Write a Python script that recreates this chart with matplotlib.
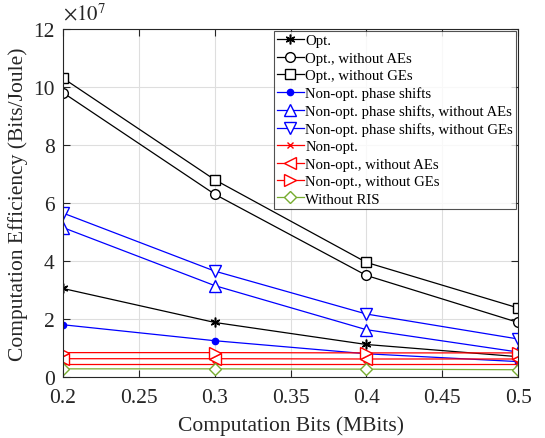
import numpy as np
import matplotlib
matplotlib.use('Agg')
import matplotlib.pyplot as plt

plt.rcParams['font.family'] = 'Liberation Serif'
plt.rcParams['mathtext.fontset'] = 'stix'

bits = [0.2, 0.3, 0.4, 0.5]

# computation efficiency, in units of 1e7 Bits/Joule
opt = [3.05, 1.88, 1.12, 0.70]
opt_no_ae = [9.8, 6.3, 3.5, 1.88]
opt_no_ge = [10.3, 6.8, 3.95, 2.38]
nps = [1.8, 1.25, 0.80, 0.53]
nps_no_ae = [5.15, 3.15, 1.63, 0.86]
nps_no_ge = [5.65, 3.65, 2.17, 1.31]
nonopt = [0.45, 0.45, 0.45, 0.45]
nonopt_no_ae = [0.63, 0.63, 0.62, 0.62]
nonopt_no_ge = [0.84, 0.84, 0.83, 0.83]
no_ris = [0.28, 0.28, 0.27, 0.25]

green = (0.466, 0.674, 0.188)
dark = '#262626'

fig = plt.figure(figsize=(5.45, 4.39), dpi=100)
ax = fig.add_axes([0.1156, 0.139, 0.835, 0.793])

ms = 7
ax.plot(bits, opt, '-', marker=(6, 2, 0), color='k', lw=0.9, ms=ms, mew=1.1, label='Opt.')
ax.plot(bits, opt_no_ae, '-o', color='k', lw=0.9, ms=ms, mfc='w', label='Opt., without AEs')
ax.plot(bits, opt_no_ge, '-s', color='k', lw=0.9, ms=ms, mfc='w', label='Opt., without GEs')
ax.plot(bits, nps, '-o', color='b', lw=0.9, ms=4.5, label='Non-opt. phase shifts')
ax.plot(bits, nps_no_ae, '-^', color='b', lw=0.9, ms=ms + 1, mfc='w', label='Non-opt. phase shifts, without AEs')
ax.plot(bits, nps_no_ge, '-v', color='b', lw=0.9, ms=ms + 1, mfc='w', label='Non-opt. phase shifts, without GEs')
ax.plot(bits, nonopt, '-x', color='r', lw=0.9, ms=5, label='Non-opt.')
ax.plot(bits, nonopt_no_ae, '-<', color='r', lw=0.9, ms=ms + 1, mfc='w', label='Non-opt., without AEs')
ax.plot(bits, nonopt_no_ge, '->', color='r', lw=0.9, ms=ms + 1, mfc='w', label='Non-opt., without GEs')
ax.plot(bits, no_ris, '-D', color=green, lw=0.9, ms=6, mfc='w', label='Without RIS')

ax.set_xlim(0.2, 0.5)
ax.set_ylim(0, 12)
ax.set_xticks([0.2, 0.25, 0.3, 0.35, 0.4, 0.45, 0.5])
ax.set_xticklabels(['0.2', '0.25', '0.3', '0.35', '0.4', '0.45', '0.5'])
ax.set_yticks(np.arange(0, 13, 2))
ax.text(0.0, 1.012, r'$\times10^{7}$', transform=ax.transAxes, fontsize=15, color=dark,
        ha='left', va='bottom')

ax.grid(True, color='#dedede', lw=0.8)
ax.set_axisbelow(True)
ax.tick_params(direction='in', top=True, right=True, labelsize=15.5, length=5, width=0.8, colors=dark)
ax.tick_params(axis='x', pad=8)
ax.tick_params(axis='y', pad=6)
for s in ax.spines.values():
    s.set_color(dark)
    s.set_linewidth(0.8)

ax.set_xlabel('Computation Bits (MBits)', fontsize=15.5, color=dark, labelpad=6)
ax.set_ylabel('Computation Efficiency (Bits/Joule)', fontsize=15.5, color=dark, labelpad=4)

leg = ax.legend(loc='upper right', fontsize=10.6, frameon=True, fancybox=False, edgecolor=dark,
                borderaxespad=0.15, handlelength=1.8, handletextpad=0.1, labelspacing=0.28, borderpad=0.2)
leg.get_frame().set_linewidth(0.8)

fig.savefig('out.png', dpi=100)
